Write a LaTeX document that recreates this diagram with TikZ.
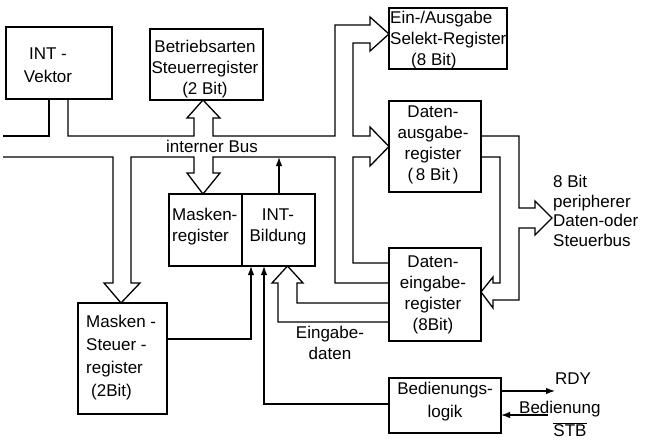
\documentclass[tikz,border=0pt]{standalone}
\usepackage{fontspec}
\setmainfont{Liberation Sans}
\usetikzlibrary{arrows.meta}
\begin{document}
\begin{tikzpicture}[x=1pt,y=-1pt,
  box/.style={draw,line width=2.4pt,inner sep=0pt,outer sep=0pt,anchor=north west},
  bus/.style={line width=1.3pt,line join=miter,line cap=butt},
  sig/.style={line width=1.3pt,-{Latex[length=9pt,width=6.5pt]}},
  txt/.style={inner sep=0pt,font=\fontsize{17}{21}\selectfont,align=center},
  txl/.style={inner sep=0pt,font=\fontsize{17}{21}\selectfont,align=left}]
\useasboundingbox (0,0) rectangle (650,441);
% boxes
\node[box,minimum width=106pt,minimum height=72pt] (ivek) at (6,27) {};
\node[box,minimum width=113pt,minimum height=71pt] (betr) at (150,29) {};
\node[box,minimum width=118pt,minimum height=61pt] (eas) at (389,8) {};
\node[box,minimum width=92pt,minimum height=91pt] (dout) at (389,101) {};
\node[box,minimum width=92pt,minimum height=93pt] (din) at (389,248) {};
\node[box,minimum width=112pt,minimum height=55pt] (bed) at (389,378) {};
\node[box,minimum width=146pt,minimum height=72pt] (mask) at (169,194) {};
\node[box,minimum width=89pt,minimum height=111pt] (mst) at (78,303) {};
\draw[line width=2.4pt] (242,0 |- mask.north) -- (242,0 |- mask.south);
% texts
\node[txt,font=\fontsize{17}{23}\selectfont] (tivek) at (48,65) {INT -\\Vektor};
\node[txt] (tbetr) at (205,69) {Betriebsarten\\Steuerregister\\(2 Bit)};
\node[txl,anchor=west] (teas) at (390,40) {Ein-/Ausgabe\\Selekt-Register\\\hspace*{21pt}(8 Bit)};
\node[txt] (tdout) at (433,145) {Daten-\\ausgabe-\\register\\(\,8 Bit\,)};
\node[txt] (tdin) at (433,295) {Daten-\\eingabe-\\register\\(8Bit)};
\node[txt,font=\fontsize{17}{23}\selectfont] (tbed) at (445,402) {Bedienungs-\\logik};
\node[txl,anchor=west] (tmr) at (172,227) {Masken-\\register};
\node[txt] (tib) at (278,227) {INT-\\Bildung};
\node[txl,anchor=west,font=\fontsize{17}{23}\selectfont] (tmst) at (86,358) {Masken -\\Steuer -\\register\\\hspace*{5pt}(2Bit)};
\node[txt] (tbus) at (212,146) {interner Bus};
\node[txt] (tein) at (330,343) {Eingabe-\\daten};
\node[txl,anchor=west,font=\fontsize{17}{19.5}\selectfont] (tper) at (553,211) {8 Bit\\peripherer\\Daten-oder\\Steuerbus};
\node[txt] (trdy) at (573,379) {RDY};
\node[txl,anchor=base west] (tbedn) at (519,413) {Bedienung};
\node[txt] (tstb) at (570,430) {$\overline{\mbox{STB}}$};
% internal bus (upper outline)
\draw[bus] (3,136) -- (49,136) -- (49,0 |- ivek.south);
\draw[bus] (68,0 |- ivek.south) -- (68,136) -- (194,136) -- (194,118) -- (187,118)
  -- (203,0 |- betr.south) -- (220,118) -- (213,118) -- (213,136) -- (335,136)
  -- (335,25) -- (370,25) -- (370,17) -- (eas.west |- 0,34) -- (370,51) -- (370,43)
  -- (353,43) -- (353,136) -- (370,136) -- (370,127) -- (dout.west) -- (370,166)
  -- (370,157) -- (353,157) -- (353,263) -- (din.west |- 0,263);
% internal bus (lower outline)
\draw[bus] (3,157) -- (113,157) -- (113,283) -- (104,283) -- (121,0 |- mst.north)
  -- (140,283) -- (131,283) -- (131,157) -- (194,157) -- (194,173) -- (187,173)
  -- (203,0 |- mask.north) -- (220,173) -- (213,173) -- (213,157) -- (335,157)
  -- (335,283) -- (din.west |- 0,283);
% Eingabedaten bus
\draw[bus] (din.west |- 0,303) -- (297,303) -- (297,283) -- (303,283)
  -- (287.5,0 |- mask.south) -- (272,283) -- (278,283) -- (278,322) -- (din.west |- 0,322);
% peripheral bus
\coordinate (pbus) at (552,218);
\draw[bus] (dout.east |- 0,136) -- (519,136) -- (519,208) -- (535,208) -- (535,201)
  -- (pbus) -- (535,235) -- (535,228) -- (519,228) -- (519,300) -- (493,300)
  -- (493,308) -- (din.east |- 0,292) -- (493,277) -- (493,283) -- (500,283)
  -- (500,157) -- (dout.east |- 0,157);
% signals
\draw[sig] (mst.east |- 0,339) -- (251,339) -- (251,0 |- mask.south);
\draw[sig] (bed.west |- 0,404) -- (264,404) -- (264,0 |- mask.south);
\draw[sig] (279,0 |- mask.north) -- (279,157);
\coordinate (rdy) at (555,391);
\draw[sig] (bed.east |- 0,391) -- (rdy);
\coordinate (stb) at (548,415);
\draw[sig] (stb) -- (bed.east |- 0,415);
\end{tikzpicture}
\end{document}
